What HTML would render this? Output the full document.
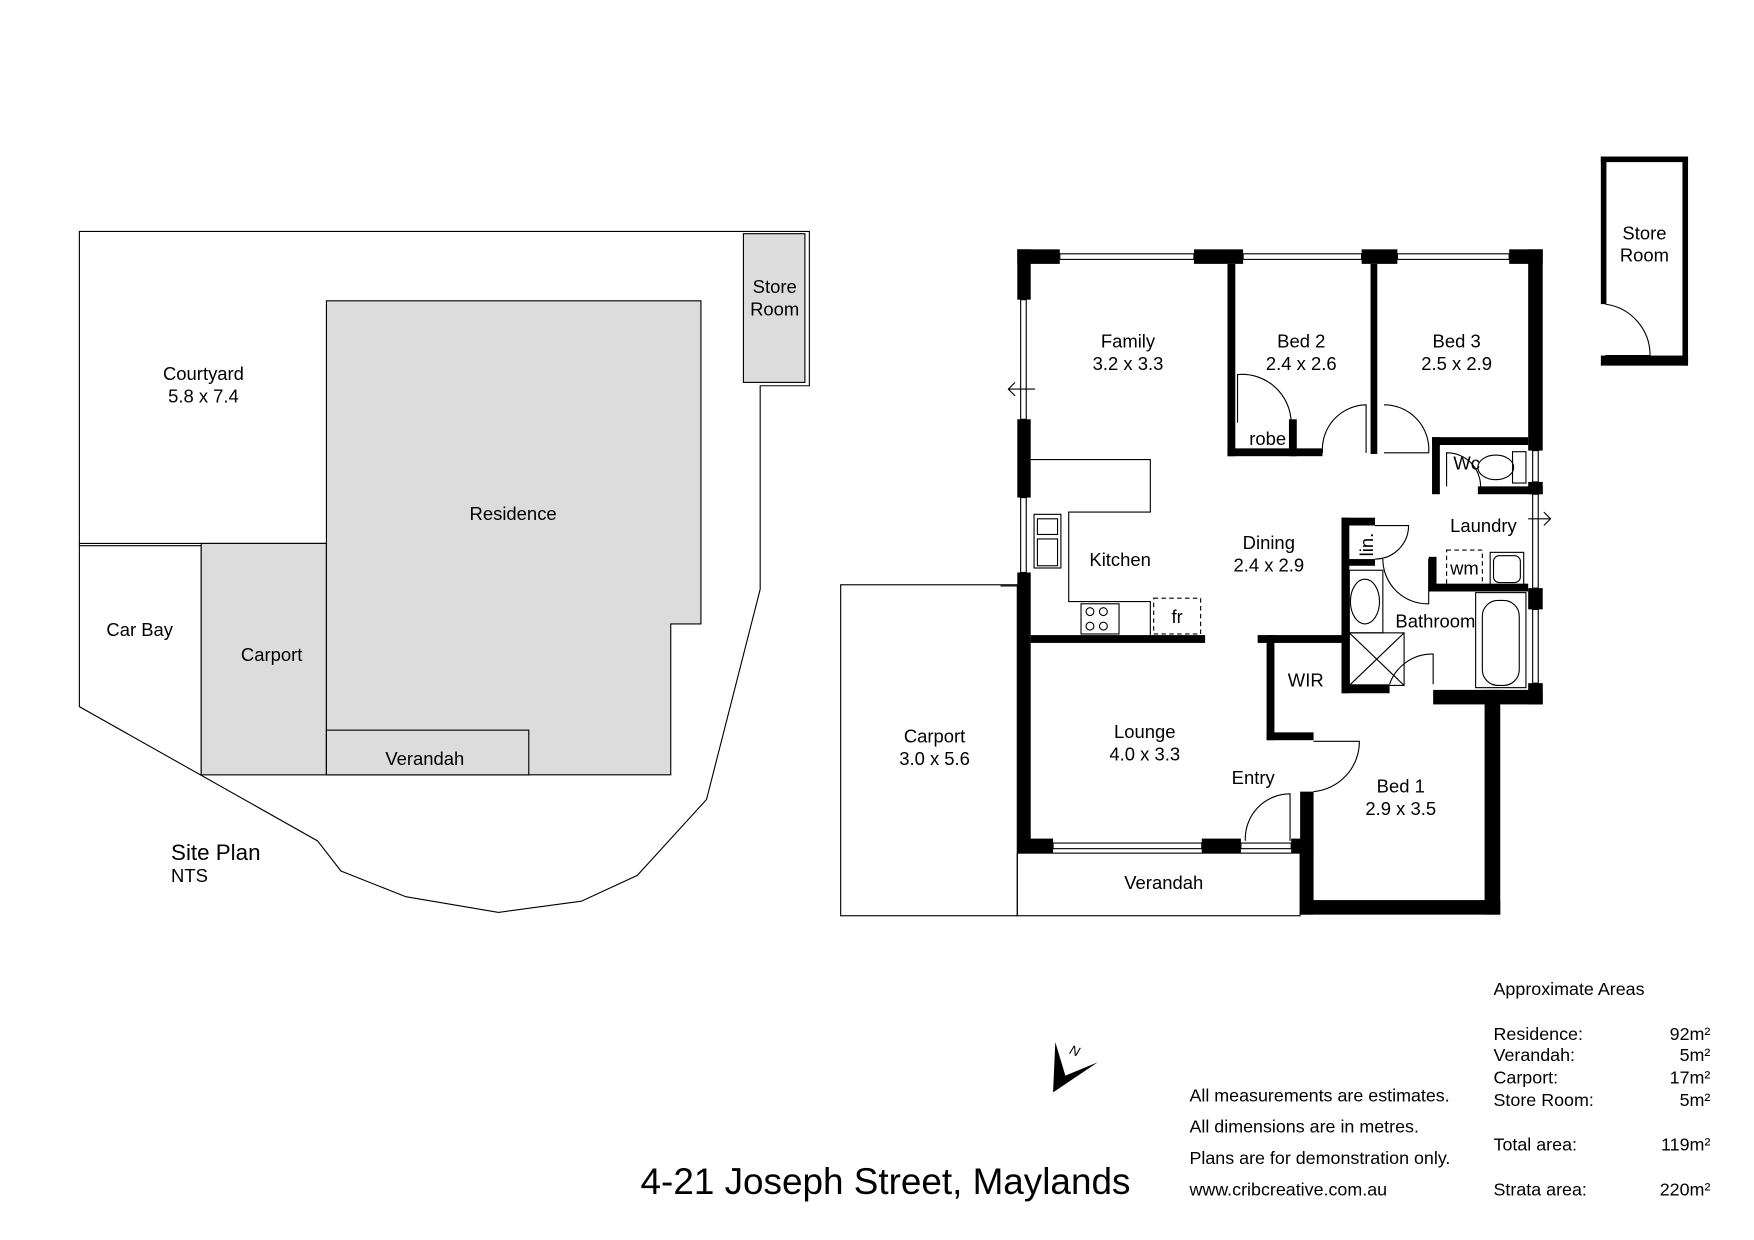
<!DOCTYPE html>
<html><head><meta charset="utf-8"><style>html,body{margin:0;padding:0;background:#fff}svg{display:block}text{font-family:"Liberation Sans",sans-serif;fill:#000}</style></head><body>
<svg width="1754" height="1240" viewBox="0 0 1569 1109" preserveAspectRatio="none" xmlns="http://www.w3.org/2000/svg">
<rect width="1569" height="1109" fill="#fff"/>
<!-- SITE PLAN -->
<g stroke="#000" stroke-width="1" fill="none">
<polygon points="71,207 724,207 724,345 680,345 680,527 632,715 570,783 520,806 446,816 363,802 305,779 284,752 71,632"/>
<line x1="71" y1="486" x2="292" y2="486"/>
<polyline points="71,488 180,488 180,693"/>
<rect x="180" y="486" width="112" height="207" fill="#dcdcdc"/>
<polygon points="292,269 627,269 627,558 600,558 600,693 292,693" fill="#dcdcdc"/>
<rect x="292" y="653" width="181" height="40" fill="#dcdcdc"/>
<rect x="665" y="209" width="55" height="133" fill="#dcdcdc"/>
</g>
<g font-size="16.5" text-anchor="middle">
<text x="182" y="340">Courtyard</text><text x="182" y="360">5.8 x 7.4</text>
<text x="459" y="465">Residence</text>
<text x="125" y="569">Car Bay</text>
<text x="243" y="591">Carport</text>
<text x="380" y="684">Verandah</text>
<text x="693" y="262">Store</text><text x="693" y="282">Room</text>
</g>
<text x="153" y="769" font-size="20">Site Plan</text>
<text x="153" y="789" font-size="16.5">NTS</text>

<!-- FLOOR PLAN outlines -->
<g stroke="#000" stroke-width="1" fill="none">
<rect x="752" y="523" width="158" height="296"/>
<rect x="910" y="763" width="253" height="56"/>
<polyline points="922,411 1029,411 1029,458 956,458 956,538 1029,538 1029,568"/>
<rect x="925" y="460" width="24" height="48"/>
<rect x="928" y="464" width="18" height="14"/><rect x="928" y="482" width="18" height="24"/>
<rect x="967" y="540" width="34" height="27"/>
<circle cx="975" cy="547" r="3.5"/><circle cx="987" cy="547" r="3.5"/><circle cx="975" cy="560" r="3.5"/><circle cx="987" cy="560" r="3.5"/>
<rect x="1032" y="535" width="42" height="32" stroke-dasharray="4,3"/>
<rect x="1294" y="492" width="32" height="32" stroke-dasharray="4,3"/>
<rect x="1333" y="494" width="30" height="30"/><rect x="1336" y="497" width="24" height="24" rx="5"/>
<rect x="1320" y="530" width="45" height="85"/><rect x="1326" y="537" width="33" height="76" rx="14"/>
<rect x="1207" y="510" width="30" height="56"/><ellipse cx="1221" cy="538" rx="13" ry="20"/>
<rect x="1207" y="566" width="49" height="47"/><line x1="1207" y1="566" x2="1256" y2="613"/><line x1="1256" y1="566" x2="1207" y2="613"/>
<rect x="1353" y="404" width="12" height="28"/><ellipse cx="1338" cy="418" rx="16" ry="11"/>
<path d="M1107,378 L1107,335 A44,44 0 0 1 1155,378"/>
<path d="M1183,405 A40,40 0 0 1 1222,362 L1222,405"/>
<path d="M1238,362 A40,40 0 0 1 1278,405 L1238,405"/>
<path d="M1294,435 L1294,405 A30,30 0 0 1 1324,440"/>
<path d="M1230,470 L1260,470 A30,30 0 0 1 1230,500"/>
<path d="M1237,500 A40,40 0 0 0 1278,540 L1278,500"/>
<path d="M1243,612 A40,40 0 0 1 1282,585 L1282,612"/>
<path d="M1175,663 L1216,663 A45,45 0 0 1 1175,708"/>
<path d="M1114,752 A40,40 0 0 1 1154,710 L1154,752"/>
<path d="M1436,272 A46,46 0 0 1 1476,318 L1436,318"/>
<path d="M926,348 L902,348 M908,342 L902,348 L908,354"/>
<path d="M1367,464 L1387,464 M1381,458 L1387,464 L1381,470"/>
<line x1="895" y1="524" x2="910" y2="524"/>
<rect x="948" y="227" width="120" height="5"/><rect x="1112" y="227" width="106" height="5"/><rect x="1250" y="227" width="100" height="5"/>
<rect x="913" y="268" width="5" height="107"/><rect x="913" y="445" width="5" height="67"/>
<rect x="1371" y="403" width="5" height="28"/><rect x="1371" y="442" width="5" height="84"/><rect x="1371" y="545" width="5" height="66"/>
<rect x="942" y="754" width="133" height="5"/><rect x="1110" y="754" width="45" height="5"/>
</g>
<g fill="#000">
<rect x="910" y="223" width="38" height="13"/><rect x="1068" y="223" width="44" height="13"/><rect x="1218" y="223" width="32" height="13"/><rect x="1350" y="223" width="30" height="13"/>
<rect x="910" y="223" width="12" height="45"/><rect x="910" y="375" width="12" height="70"/><rect x="910" y="512" width="12" height="251"/>
<rect x="1367" y="223" width="13" height="180"/><rect x="1367" y="431" width="13" height="11"/><rect x="1367" y="526" width="13" height="19"/><rect x="1367" y="611" width="13" height="19"/>
<rect x="910" y="750" width="32" height="13"/><rect x="1075" y="750" width="35" height="13"/><rect x="1155" y="750" width="20" height="13"/>
<rect x="922" y="568" width="156" height="7"/>
<rect x="1125" y="568" width="82" height="7"/><rect x="1133" y="568" width="7" height="94"/><rect x="1133" y="655" width="42" height="7"/>
<rect x="1163" y="708" width="12" height="110"/><rect x="1163" y="805" width="179" height="13"/><rect x="1328" y="617" width="14" height="201"/>
<rect x="1282" y="617" width="98" height="13"/><rect x="1200" y="612" width="43" height="8"/>
<rect x="1200" y="463" width="7" height="157"/><rect x="1200" y="463" width="30" height="7"/><rect x="1200" y="500" width="30" height="6"/>
<rect x="1098" y="236" width="7" height="172"/><rect x="1098" y="401" width="85" height="7"/><rect x="1153" y="375" width="7" height="33"/>
<rect x="1226" y="236" width="6" height="170"/>
<rect x="1281" y="391" width="7" height="51"/><rect x="1281" y="391" width="86" height="7"/><rect x="1322" y="435" width="58" height="7"/>
<rect x="1278" y="498" width="7" height="31"/><rect x="1278" y="522" width="89" height="7"/>
<rect x="1432" y="140" width="78" height="5"/><rect x="1432" y="140" width="5" height="132"/><rect x="1505" y="140" width="5" height="187"/><rect x="1432" y="318" width="78" height="9"/>
</g>
<g font-size="16.5" text-anchor="middle">
<text x="1009" y="311">Family</text><text x="1009" y="331">3.2 x 3.3</text>
<text x="1164" y="311">Bed 2</text><text x="1164" y="331">2.4 x 2.6</text>
<text x="1303" y="311">Bed 3</text><text x="1303" y="331">2.5 x 2.9</text>
<text x="1134" y="398">robe</text>
<text x="1312" y="420">Wc</text>
<text x="1327" y="476">Laundry</text>
<text x="1310" y="514">wm</text>
<text x="1135" y="491">Dining</text><text x="1135" y="511">2.4 x 2.9</text>
<text x="1002" y="506">Kitchen</text>
<text x="1053" y="557">fr</text>
<text x="1284" y="561">Bathroom</text>
<text x="1168" y="614">WIR</text>
<text x="1024" y="660">Lounge</text><text x="1024" y="680">4.0 x 3.3</text>
<text x="1121" y="701">Entry</text>
<text x="1253" y="709">Bed 1</text><text x="1253" y="729">2.9 x 3.5</text>
<text x="836" y="664">Carport</text><text x="836" y="684">3.0 x 5.6</text>
<text x="1041" y="795">Verandah</text>
<text x="1471" y="214">Store</text><text x="1471" y="234">Room</text>
<text x="1220" y="495" transform="rotate(-90 1220 487)">lin.</text>
</g>
<polygon points="944,932 942,977 982,950 953,962" fill="#000"/>
<text x="957" y="944" font-size="12" font-style="italic" transform="rotate(20 962 940)">N</text>
<text x="573" y="1068" font-size="33">4-21 Joseph Street, Maylands</text>
<g font-size="16">
<text x="1064" y="985">All measurements are estimates.</text>
<text x="1064" y="1013">All dimensions are in metres.</text>
<text x="1064" y="1041">Plans are for demonstration only.</text>
<text x="1064" y="1069">www.cribcreative.com.au</text>
<text x="1336" y="890">Approximate Areas</text>
<text x="1336" y="930">Residence:</text><text x="1336" y="949">Verandah:</text><text x="1336" y="969">Carport:</text><text x="1336" y="989">Store Room:</text>
<text x="1336" y="1029">Total area:</text><text x="1336" y="1069">Strata area:</text>
<g text-anchor="end"><text x="1530" y="930">92m²</text><text x="1530" y="949">5m²</text><text x="1530" y="969">17m²</text><text x="1530" y="989">5m²</text><text x="1530" y="1029">119m²</text><text x="1530" y="1069">220m²</text></g>
</g>
</svg>
</body></html>
